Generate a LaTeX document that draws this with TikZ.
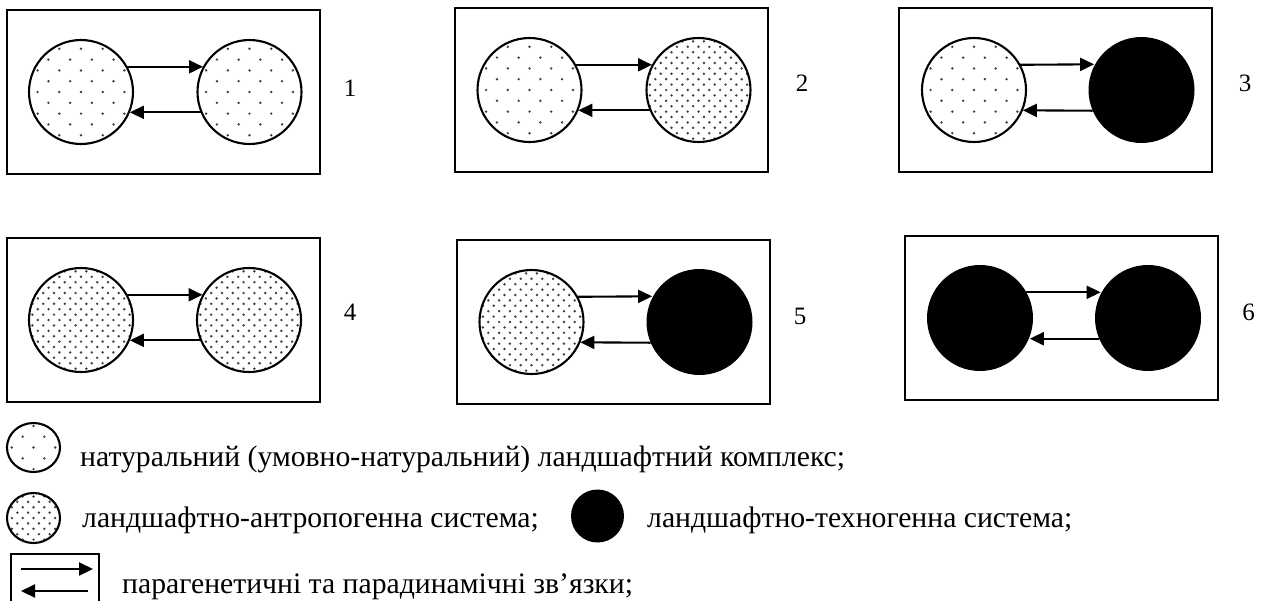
\documentclass[tikz,border=0pt]{standalone}
\usepackage{fontspec}
\setmainfont{Liberation Serif}
\usetikzlibrary{arrows.meta,shapes.geometric}

\newcommand\dotpattern[2]{%
  \begin{scope}[shift={(path picture bounding box.center)}]
    \foreach \j in {-12,...,12}{
      \foreach \i in {-7,...,7}{
        \fill[black!75] ({\i*#1 + mod(\j+100,2)*#1/2}, {\j*#2}) circle[radius=1.35pt];
      }
    }
  \end{scope}}

\tikzset{
  frame/.style={draw, line width=2.1pt, inner sep=0pt, minimum width=313pt, minimum height=164pt},
  ring/.style={circle, draw, line width=2.1pt, minimum size=104pt, inner sep=0pt, outer sep=0pt},
  natfill/.style={ring, path picture={\dotpattern{21.7}{10.8}}},
  antfill/.style={ring, path picture={\dotpattern{10.8}{5.4}}},
  techno/.style={circle, fill=black, minimum size=106pt, inner sep=0pt, outer sep=0pt},
  link/.style={line width=2.1pt, -{Triangle[length=14pt,width=13pt]}, shorten >=1pt},
  num/.style={font=\fontsize{25}{30}\selectfont, inner sep=0pt},
  legtext/.style={font=\fontsize{29.7}{36}\selectfont, anchor=base west, inner sep=0pt},
  legnat/.style={ellipse, draw, line width=2.1pt, minimum width=53pt, minimum height=49pt, inner sep=0pt, path picture={\dotpattern{21.7}{10.8}}},
  legant/.style={ellipse, draw, line width=2.1pt, minimum width=53pt, minimum height=50pt, inner sep=0pt, path picture={\dotpattern{10.8}{5.4}}},
  legtech/.style={circle, fill=black, minimum size=53pt, inner sep=0pt},
}

\begin{document}
\begin{tikzpicture}[x=1pt,y=-1pt]
\useasboundingbox (0,0) rectangle (1263,600);

% frames
\node[frame] (f1) at (163.5,92) {};
\node[frame] (f2) at (611.5,90) {};
\node[frame] (f3) at (1055.5,90) {};
\node[frame] (f4) at (163.5,320) {};
\node[frame] (f5) at (613.5,322) {};
\node[frame] (f6) at (1061.5,318) {};

% circles
\node[natfill] (a1) at (81,92) {};
\node[natfill] (b1) at (249.5,92) {};
\node[natfill] (a2) at (529.5,90) {};
\node[antfill] (b2) at (698.5,90) {};
\node[natfill] (a3) at (974,90) {};
\node[techno] (b3) at (1141.5,90) {};
\node[antfill] (a4) at (81,320) {};
\node[antfill] (b4) at (249,320) {};
\node[antfill] (a5) at (531.5,322) {};
\node[techno] (b5) at (699.5,322) {};
\node[techno] (a6) at (980,318) {};
\node[techno] (b6) at (1148,318) {};

% links
\foreach \k in {1,...,6}{
  \draw[link] (a\k.29) -- (b\k.151);
  \draw[link] (b\k.-157) -- (a\k.-23);
}

% numbers
\node[num] (n1) at (350,88) {1};
\node[num] (n2) at (802,83) {2};
\node[num] (n3) at (1245,83) {3};
\node[num] (n4) at (350,312) {4};
\node[num] (n5) at (800,316) {5};
\node[num] (n6) at (1248.5,312) {6};

% legend
\node[legnat] (le1) at (33.5,447.5) {};
\node[legtext] (lt1) at (80,466) {натуральний (умовно-натуральний) ландшафтний комплекс;};
\node[legant] (le2) at (33.5,518) {};
\node[legtext] (lt2) at (82,527) {ландшафтно-антропогенна система;};
\node[legtech] (le3) at (597.5,516) {};
\node[legtext] (lt3) at (647,527) {ландшафтно-техногенна система;};
\draw[line width=2.1pt] (11,606) |- (99,554) -- (99,606);
\coordinate (la1) at (21,569);
\coordinate (la2) at (93,569);
\coordinate (lb1) at (88,591);
\coordinate (lb2) at (21,591);
\draw[link, shorten >=0pt] (la1) -- (la2);
\draw[link, shorten >=0pt] (lb1) -- (lb2);
\node[legtext] (lt4) at (122,593) {парагенетичні та парадинамічні зв’язки;};
\end{tikzpicture}
\end{document}
